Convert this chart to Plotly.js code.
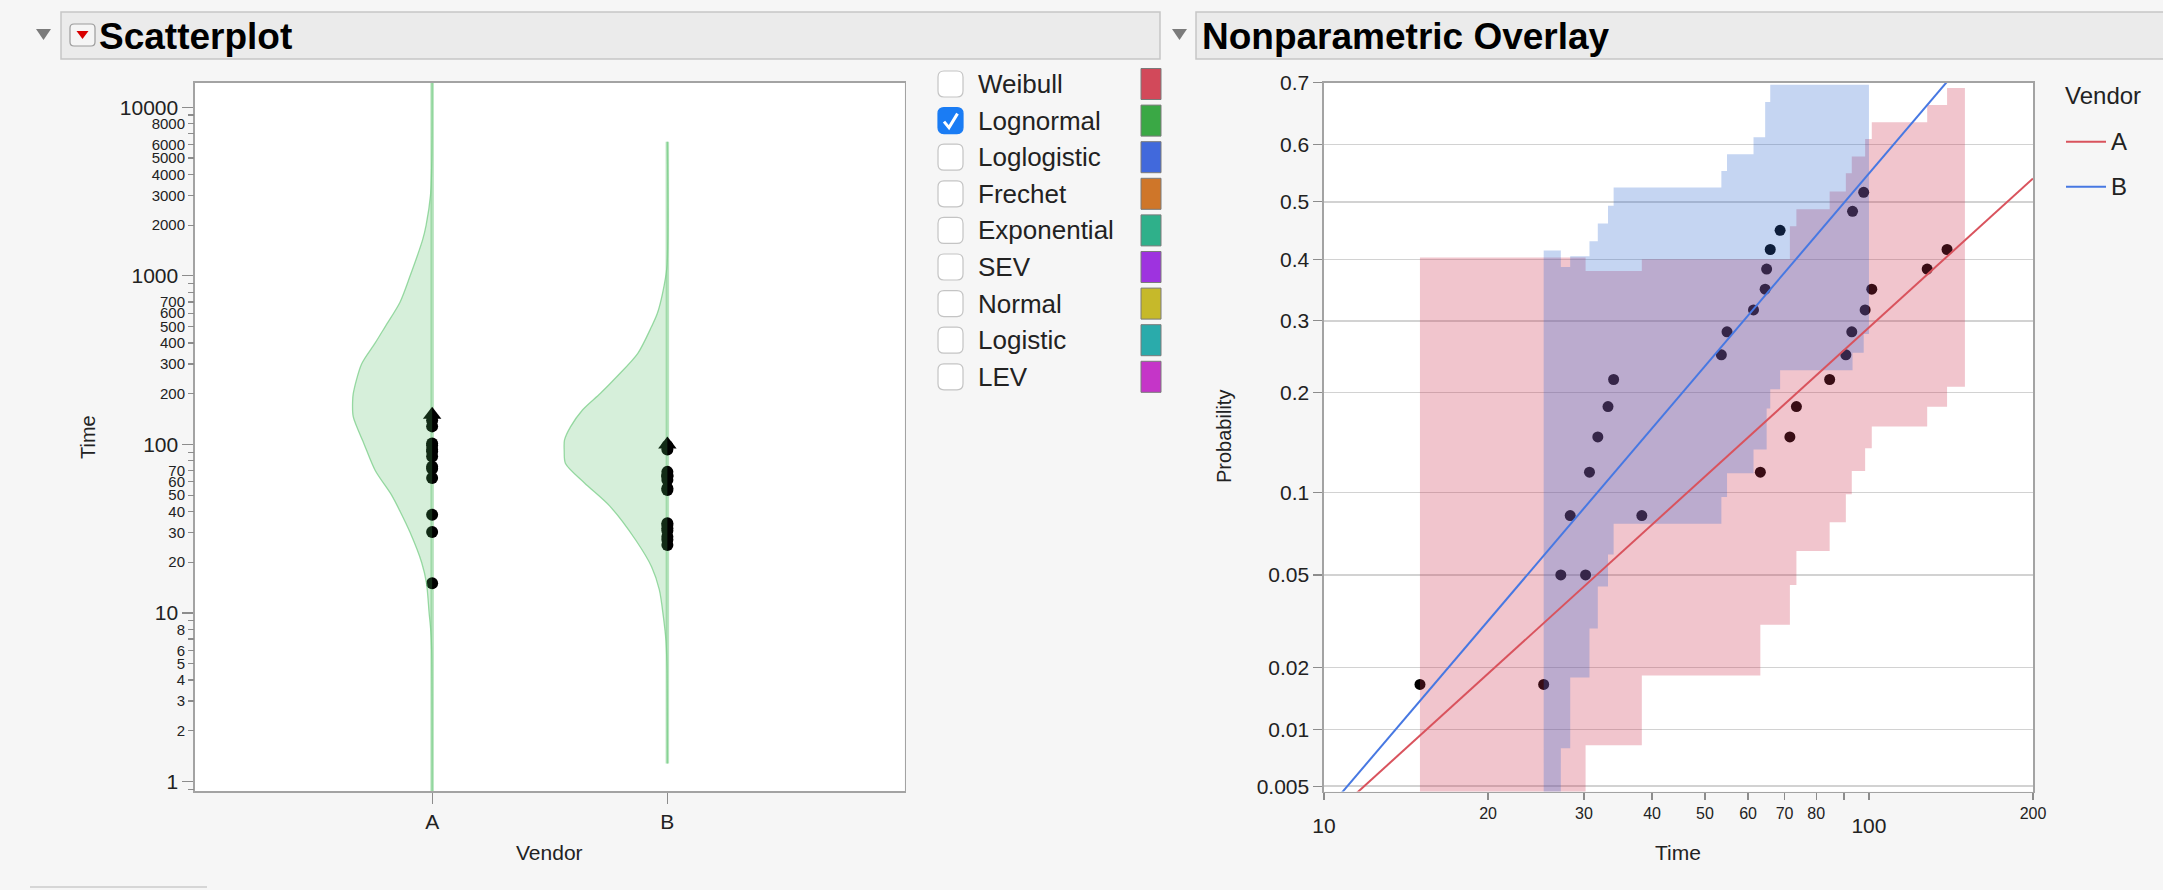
<!DOCTYPE html>
<html>
<head>
<meta charset="utf-8">
<script src="https://cdn.plot.ly/plotly-3.0.1.min.js"></script>
<style>
  html, body { margin: 0; padding: 0; background: #f6f6f6; }
  #chart { width: 2163px; height: 890px; }
</style>
</head>
<body>
<div id="chart"></div>
<script>
// ---------------- data ----------------
const vendors = ['A', 'B'];

// failure times (hours) per vendor
const failA = [15.0, 30.2, 38.3, 63.2, 71.6, 73.6, 84.7, 90.7, 93.0, 98.4, 101.2, 127.9, 139.1];
const failB = [25.3, 27.2, 28.3, 30.7, 31.8, 33.2, 34.0, 53.6, 54.9, 61.4, 64.5, 64.9, 65.9, 68.7, 93.3, 97.8];
// right-censoring time of the surviving units
const censorA = 150;
const censorB = 100;

// nonparametric plotting positions of the failures
const probA = [0.0167, 0.05, 0.0833, 0.1167, 0.15, 0.1833, 0.2167, 0.25, 0.2833, 0.3167, 0.35, 0.3833, 0.4167];
const probB = [0.0167, 0.05, 0.0833, 0.1167, 0.15, 0.1833, 0.2167, 0.25, 0.2833, 0.3167, 0.35, 0.3833, 0.4167, 0.45, 0.4833, 0.5167];

// simultaneous confidence band, one value per step between failures (null = below the axis floor)
const bandA_upper = [0.403, 0.380, 0.400, 0.400, 0.457, 0.487, 0.518, 0.550, 0.579, 0.609, 0.637, 0.665, 0.692];
const bandA_lower = [null, 0.0083, 0.0184, 0.0311, 0.0456, 0.0618, 0.0789, 0.0986, 0.1177, 0.1386, 0.161, 0.183, 0.2076];
const bandB_upper = [0.415, 0.387, 0.405, 0.431, 0.462, 0.493, 0.525, 0.554, 0.583, 0.612, 0.670, 0.670, 0.697, 0.697, 0.697, 0.697];
const bandB_lower = [null, 0.0080, 0.018, 0.030, 0.045, 0.060, 0.078, 0.0966, 0.1157, 0.1375, 0.1375, 0.181, 0.2044, 0.229, 0.253, 0.28];

// lognormal fit lines (time, probability) at the ends of the time axis
const fitA_time = [10, 200];
const fitA_prob = [0.0031, 0.541];
const fitB_time = [10, 200];
const fitB_prob = [0.0035, 0.835];

// fitted lognormal density of log10(time), per vendor
const densA_time = [0.8, 6, 8, 10, 15, 20, 30, 40, 50, 70, 100, 146, 178, 200, 300, 400, 500, 700, 1000, 1633, 2000, 3000, 5000, 15000];
const densA      = [0, 0.005, 0.016, 0.033, 0.062, 0.116, 0.242, 0.352, 0.446, 0.626, 0.747, 0.868, 0.875, 0.868, 0.776, 0.626, 0.516, 0.352, 0.242, 0.105, 0.066, 0.018, 0.003, 0];
const densB_time = [1.28, 5, 6.9, 9.5, 13.7, 18.8, 27, 43, 59, 77, 92, 106, 127, 160, 201, 251, 347, 500, 600, 788, 1133, 6250];
const densB      = [0, 0.005, 0.016, 0.044, 0.088, 0.174, 0.347, 0.633, 0.912, 1.121, 1.135, 1.132, 1.066, 0.934, 0.736, 0.560, 0.325, 0.174, 0.110, 0.053, 0.005, 0];

// distribution checklist
const distNames   = ['Weibull', 'Lognormal', 'Loglogistic', 'Frechet', 'Exponential', 'SEV', 'Normal', 'Logistic', 'LEV'];
const distColors  = ['#d2495a', '#3aa845', '#4169dc', '#cf7629', '#2fb08a', '#9e33df', '#c6b92a', '#2aabab', '#c535c8'];
const distChecked = [false, true, false, false, false, false, false, false, false];

// axis ticks
const timeMajorTicks = [1, 10, 100, 1000, 10000];
const timeMinorTicks = [0.9, 2, 3, 4, 5, 6, 7, 8, 9, 20, 30, 40, 50, 60, 70, 80, 90,
  200, 300, 400, 500, 600, 700, 800, 900, 2000, 3000, 4000, 5000, 6000, 7000, 8000, 9000];
const timeMinorLabels = ['', '2', '3', '4', '5', '6', '', '8', '', '20', '30', '40', '50', '60', '70', '', '',
  '200', '300', '400', '500', '600', '700', '', '', '2000', '3000', '4000', '5000', '6000', '', '8000', ''];
const probTicks = [0.005, 0.01, 0.02, 0.05, 0.1, 0.2, 0.3, 0.4, 0.5, 0.6, 0.7];
const overlayMajorTicks = [10, 100];
const overlayMinorTicks = [20, 30, 40, 50, 60, 70, 80, 90, 200];
const overlayMinorLabels = ['20', '30', '40', '50', '60', '70', '80', '', '200'];
const probRange = [0.00467, 0.7];

// ---------------- helpers ----------------
const W = 2163, H = 890;
const X = p => p / W;          // pixel -> paper x
const Y = p => 1 - p / H;      // pixel -> paper y
const FONT = 'Liberation Sans, Arial, Helvetica, sans-serif';

// inverse standard normal CDF (probability-paper scale)
function probit(p) {
  const a = [-3.969683028665376e+01, 2.209460984245205e+02, -2.759285104469687e+02, 1.383577518672690e+02, -3.066479806614716e+01, 2.506628277459239e+00];
  const b = [-5.447609879822406e+01, 1.615858368580409e+02, -1.556989798598866e+02, 6.680131188771972e+01, -1.328068155288572e+01];
  const c = [-7.784894002430293e-03, -3.223964580411365e-01, -2.400758277161838e+00, -2.549732539343734e+00, 4.374664141464968e+00, 2.938163982698783e+00];
  const d = [7.784695709041462e-03, 3.224671290700398e-01, 2.445134137142996e+00, 3.754408661907416e+00];
  const pl = 0.02425, ph = 1 - pl;
  let q, r;
  if (p < pl) {
    q = Math.sqrt(-2 * Math.log(p));
    return (((((c[0]*q + c[1])*q + c[2])*q + c[3])*q + c[4])*q + c[5]) / ((((d[0]*q + d[1])*q + d[2])*q + d[3])*q + 1);
  }
  if (p <= ph) {
    q = p - 0.5; r = q * q;
    return (((((a[0]*r + a[1])*r + a[2])*r + a[3])*r + a[4])*r + a[5])*q / (((((b[0]*r + b[1])*r + b[2])*r + b[3])*r + b[4])*r + 1);
  }
  q = Math.sqrt(-2 * Math.log(1 - p));
  return -(((((c[0]*q + c[1])*q + c[2])*q + c[3])*q + c[4])*q + c[5]) / ((((d[0]*q + d[1])*q + d[2])*q + d[3])*q + 1);
}

const zRange = probRange.map(probit);
const zFloor = zRange[0] - 0.2;

// step band polygon: edges are the failure times plus the censoring time
function bandPolygon(edges, lower, upper) {
  const xs = [], ys = [];
  for (let i = 0; i < upper.length; i++) {
    const z = probit(upper[i]);
    xs.push(edges[i], edges[i + 1]); ys.push(z, z);
  }
  for (let i = lower.length - 1; i >= 0; i--) {
    const z = lower[i] == null ? zFloor : probit(lower[i]);
    xs.push(edges[i + 1], edges[i]); ys.push(z, z);
  }
  xs.push(xs[0]); ys.push(ys[0]);
  return { xs, ys };
}

// half violin drawn to the left of a category position
const violinScale = 0.3864;
function halfViolin(center, times, dens) {
  const curveX = times.map((t, i) => center - dens[i] * violinScale);
  const xs = curveX.concat(times.map(() => center));
  const ys = times.concat(times.slice().reverse());
  return { curveX, xs, ys };
}

// rounded rectangle path in paper units, from pixel corners
function roundRect(x0, y0, x1, y1, r) {
  const pts = [
    ['M', x0 + r, y0], ['L', x1 - r, y0], ['Q', x1, y0, x1, y0 + r],
    ['L', x1, y1 - r], ['Q', x1, y1, x1 - r, y1], ['L', x0 + r, y1],
    ['Q', x0, y1, x0, y1 - r], ['L', x0, y0 + r], ['Q', x0, y0, x0 + r, y0]
  ];
  return pts.map(p => {
    let s = p[0];
    for (let i = 1; i < p.length; i += 2) s += ' ' + X(p[i]).toFixed(6) + ',' + Y(p[i + 1]).toFixed(6);
    return s;
  }).join(' ') + ' Z';
}
function polyPath(pts) {
  return pts.map((p, i) => (i ? 'L' : 'M') + ' ' + X(p[0]).toFixed(6) + ',' + Y(p[1]).toFixed(6)).join(' ') + ' Z';
}

// ---------------- traces ----------------
const traces = [];

// empty traces so the secondary tick-label axes get drawn
traces.push({ x: [], y: [], xaxis: 'x', yaxis: 'y3', type: 'scatter', mode: 'markers', showlegend: false, hoverinfo: 'skip' });
traces.push({ x: [], y: [], xaxis: 'x4', yaxis: 'y2', type: 'scatter', mode: 'markers', showlegend: false, hoverinfo: 'skip' });

// left panel: category baselines
const vA = halfViolin(0, densA_time, densA);
const vB = halfViolin(1, densB_time, densB);
[[0, densA_time], [1, densB_time]].forEach(([c, t]) => {
  traces.push({ x: [c, c], y: [t[0], t[t.length - 1]], xaxis: 'x', yaxis: 'y', mode: 'lines',
    line: { color: '#b8e4bf', width: 3.5 }, hoverinfo: 'skip', showlegend: false });
});

// left panel: failures and censored units
traces.push({ x: failA.map(() => 0), y: failA, xaxis: 'x', yaxis: 'y', mode: 'markers',
  marker: { symbol: 'circle', size: 12, color: '#000' }, showlegend: false, name: vendors[0] });
traces.push({ x: failB.map(() => 1), y: failB, xaxis: 'x', yaxis: 'y', mode: 'markers',
  marker: { symbol: 'circle', size: 12, color: '#000' }, showlegend: false, name: vendors[1] });
traces.push({ x: [0, 1], y: [censorA, censorB], xaxis: 'x', yaxis: 'y', mode: 'markers',
  marker: { symbol: 'triangle-up', size: 16, color: '#000' }, showlegend: false });

// left panel: density shading
[vA, vB].forEach(v => {
  traces.push({ x: v.xs, y: v.ys, xaxis: 'x', yaxis: 'y', mode: 'lines', fill: 'toself',
    fillcolor: 'rgba(76,187,96,0.23)', line: { width: 0, shape: 'spline', smoothing: 0.8 },
    hoverinfo: 'skip', showlegend: false });
});
[[vA, densA_time], [vB, densB_time]].forEach(([v, t]) => {
  traces.push({ x: v.curveX, y: t, xaxis: 'x', yaxis: 'y', mode: 'lines',
    line: { color: 'rgba(120,205,135,0.75)', width: 1.3, shape: 'spline', smoothing: 0.8 },
    hoverinfo: 'skip', showlegend: false });
});

// right panel: points (drawn first so the bands tint them)
traces.push({ x: failA, y: probA.map(probit), xaxis: 'x2', yaxis: 'y2', mode: 'markers',
  marker: { size: 11, color: '#000' }, showlegend: false });
traces.push({ x: failB, y: probB.map(probit), xaxis: 'x2', yaxis: 'y2', mode: 'markers',
  marker: { size: 11, color: '#000' }, showlegend: false });

// right panel: confidence bands
const bA = bandPolygon(failA.concat([censorA]), bandA_lower, bandA_upper);
const bB = bandPolygon(failB.concat([censorB]), bandB_lower, bandB_upper);
traces.push({ x: bA.xs, y: bA.ys, xaxis: 'x2', yaxis: 'y2', mode: 'lines', fill: 'toself',
  fillcolor: 'rgba(205,48,77,0.28)', line: { width: 0 }, hoverinfo: 'skip', showlegend: false });
traces.push({ x: bB.xs, y: bB.ys, xaxis: 'x2', yaxis: 'y2', mode: 'lines', fill: 'toself',
  fillcolor: 'rgba(48,105,207,0.28)', line: { width: 0 }, hoverinfo: 'skip', showlegend: false });

// right panel: lognormal fits
traces.push({ x: fitA_time, y: fitA_prob.map(probit), xaxis: 'x2', yaxis: 'y2', mode: 'lines',
  line: { color: '#d9535d', width: 2 }, name: vendors[0], showlegend: false });
traces.push({ x: fitB_time, y: fitB_prob.map(probit), xaxis: 'x2', yaxis: 'y2', mode: 'lines',
  line: { color: '#4778e2', width: 2 }, name: vendors[1], showlegend: false });

// ---------------- decorations ----------------
const shapes = [];
const annotations = [];

// outline headers
shapes.push({ type: 'rect', xref: 'paper', yref: 'paper', x0: X(61), x1: X(1160), y0: Y(59), y1: Y(12),
  fillcolor: '#ebebeb', line: { color: '#c6c6c6', width: 1.5 }, layer: 'below' });
shapes.push({ type: 'rect', xref: 'paper', yref: 'paper', x0: X(1196), x1: X(2175), y0: Y(59), y1: Y(12),
  fillcolor: '#ebebeb', line: { color: '#c6c6c6', width: 1.5 }, layer: 'below' });
shapes.push({ type: 'path', xref: 'paper', yref: 'paper', path: polyPath([[36, 29], [51, 29], [43.5, 40]]),
  fillcolor: '#7b7b7b', line: { width: 0 } });
shapes.push({ type: 'path', xref: 'paper', yref: 'paper', path: polyPath([[1172, 29], [1187, 29], [1179.5, 40]]),
  fillcolor: '#7b7b7b', line: { width: 0 } });
shapes.push({ type: 'path', xref: 'paper', yref: 'paper', path: roundRect(70, 24, 95, 46, 4),
  fillcolor: '#f5f5f5', line: { color: '#9c9c9c', width: 1.2 } });
shapes.push({ type: 'path', xref: 'paper', yref: 'paper', path: polyPath([[76.5, 31], [88.5, 31], [82.5, 39]]),
  fillcolor: '#d80000', line: { width: 0 } });
annotations.push({ xref: 'paper', yref: 'paper', x: X(97), y: Y(36), xanchor: 'left', yanchor: 'middle',
  text: '<b>Scatterplot</b>', showarrow: false, font: { family: FONT, size: 37, color: '#000' } });
annotations.push({ xref: 'paper', yref: 'paper', x: X(1200), y: Y(36), xanchor: 'left', yanchor: 'middle',
  text: '<b>Nonparametric Overlay</b>', showarrow: false, font: { family: FONT, size: 37, color: '#000' } });

// distribution checklist
const rowY0 = 84, rowStep = 36.6;
distNames.forEach((name, i) => {
  const cy = rowY0 + i * rowStep;
  shapes.push({ type: 'path', xref: 'paper', yref: 'paper', path: roundRect(938, cy - 13, 963, cy + 13, 6),
    fillcolor: distChecked[i] ? '#1a7cf4' : '#ffffff',
    line: { color: distChecked[i] ? '#1a7cf4' : '#c4c4c4', width: 1.2 } });
  if (distChecked[i]) {
    shapes.push({ type: 'path', xref: 'paper', yref: 'paper',
      path: 'M ' + X(944) + ',' + Y(cy + 1) + ' L ' + X(949) + ',' + Y(cy + 7) + ' L ' + X(957.5) + ',' + Y(cy - 7),
      line: { color: '#ffffff', width: 3 } });
  }
  shapes.push({ type: 'rect', xref: 'paper', yref: 'paper', x0: X(1141), x1: X(1161), y0: Y(cy + 15.5), y1: Y(cy - 15.5),
    fillcolor: distColors[i], line: { color: '#7a7a7a', width: 1 } });
  annotations.push({ xref: 'paper', yref: 'paper', x: X(976), y: Y(cy), xanchor: 'left', yanchor: 'middle',
    text: name, showarrow: false, font: { family: FONT, size: 26, color: '#222' } });
});

// axis titles
annotations.push({ xref: 'paper', yref: 'paper', x: X(549), y: Y(852), xanchor: 'center', yanchor: 'middle',
  text: 'Vendor', showarrow: false, font: { family: FONT, size: 21, color: '#222' } });
annotations.push({ xref: 'paper', yref: 'paper', x: X(88), y: Y(437), xanchor: 'center', yanchor: 'middle',
  text: 'Time', textangle: -90, showarrow: false, font: { family: FONT, size: 20, color: '#222' } });
annotations.push({ xref: 'paper', yref: 'paper', x: X(1678), y: Y(852), xanchor: 'center', yanchor: 'middle',
  text: 'Time', showarrow: false, font: { family: FONT, size: 21, color: '#222' } });
annotations.push({ xref: 'paper', yref: 'paper', x: X(1224), y: Y(437), xanchor: 'center', yanchor: 'middle',
  text: 'Probability', textangle: -90, showarrow: false, font: { family: FONT, size: 20, color: '#222' } });

// vendor legend
annotations.push({ xref: 'paper', yref: 'paper', x: X(2063), y: Y(95), xanchor: 'left', yanchor: 'middle',
  text: 'Vendor', showarrow: false, font: { family: FONT, size: 24, color: '#222' } });
[['#d9535d', 141.7], ['#4778e2', 186.7]].forEach(([col, ly], i) => {
  shapes.push({ type: 'line', xref: 'paper', yref: 'paper', x0: X(2066), x1: X(2106), y0: Y(ly), y1: Y(ly),
    line: { color: col, width: 2 } });
  annotations.push({ xref: 'paper', yref: 'paper', x: X(2109), y: Y(ly), xanchor: 'left', yanchor: 'middle',
    text: vendors[i], showarrow: false, font: { family: FONT, size: 24, color: '#222' } });
});

// small strip at the lower left
shapes.push({ type: 'line', xref: 'paper', yref: 'paper', x0: X(30), x1: X(207), y0: Y(887), y1: Y(887),
  line: { color: '#d6d6d6', width: 2 } });

// ---------------- layout ----------------
const axisLine = { showline: true, linecolor: '#a3a3a3', linewidth: 1.6, mirror: true, zeroline: false };
const tickStyle = { ticks: 'outside', tickcolor: '#8c8c8c', tickwidth: 1.2 };

const layout = {
  width: W, height: H, autosize: false,
  margin: { l: 0, r: 0, t: 0, b: 0, pad: 0 },
  paper_bgcolor: '#f6f6f6', plot_bgcolor: '#ffffff',
  font: { family: FONT, color: '#222' },
  showlegend: false,
  xaxis: Object.assign({
    domain: [X(195), X(904.5)], anchor: 'y', range: [-1.008, 2.008],
    tickvals: [0, 1], ticktext: vendors, ticklen: 11, tickfont: { size: 21 }, showgrid: false
  }, axisLine, tickStyle),
  yaxis: Object.assign({
    domain: [Y(791), Y(83)], anchor: 'x', type: 'log', range: [-0.0564, 4.1441],
    tickvals: timeMajorTicks, ticktext: timeMajorTicks.map(String), ticklen: 11,
    tickfont: { size: 21 }, showgrid: false
  }, axisLine, tickStyle),
  yaxis3: Object.assign({
    overlaying: 'y', anchor: 'x', side: 'left', type: 'log', range: [-0.0564, 4.1441],
    tickvals: timeMinorTicks, ticktext: timeMinorLabels, ticklen: 6,
    tickfont: { size: 15 }, showgrid: false, showline: false, zeroline: false
  }, tickStyle),
  xaxis2: Object.assign({
    domain: [X(1324), X(2033)], anchor: 'y2', type: 'log', range: [1, Math.log10(200)],
    tickvals: overlayMinorTicks, ticktext: overlayMinorLabels, ticklen: 7,
    tickfont: { size: 16 }, showgrid: false
  }, axisLine, tickStyle),
  xaxis4: Object.assign({
    overlaying: 'x2', anchor: 'y2', side: 'bottom', type: 'log', range: [1, Math.log10(200)],
    tickvals: overlayMajorTicks, ticktext: overlayMajorTicks.map(String), ticklen: 7,
    tickfont: { size: 21 }, showgrid: false, showline: false, zeroline: false, ticklabelstandoff: 8
  }, tickStyle),
  yaxis2: Object.assign({
    domain: [Y(791.5), Y(82.8)], anchor: 'x2', range: zRange,
    tickvals: probTicks.map(probit), ticktext: probTicks.map(String), ticklen: 9,
    tickfont: { size: 21 }, showgrid: true, gridcolor: '#d2d2d2', gridwidth: 1.5
  }, axisLine, tickStyle),
  shapes: shapes,
  annotations: annotations
};

Plotly.newPlot('chart', traces, layout, { staticPlot: true, displayModeBar: false });
</script>
</body>
</html>
